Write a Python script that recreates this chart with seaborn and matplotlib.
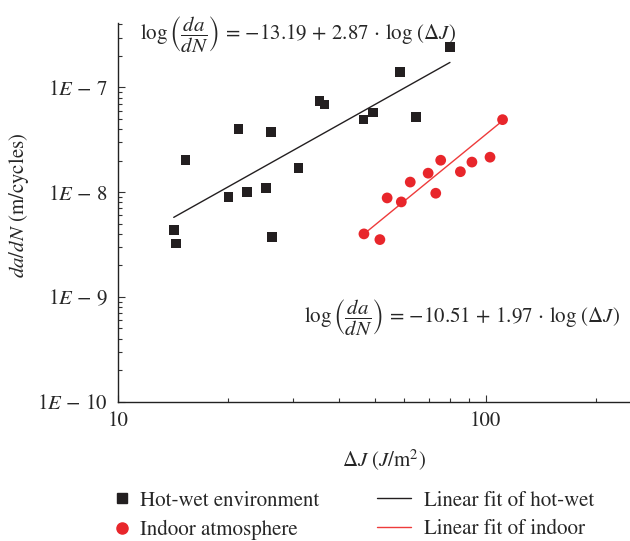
import numpy as np
import pandas as pd
import seaborn as sns
import matplotlib
matplotlib.use("Agg")
import matplotlib.pyplot as plt
from matplotlib.ticker import LogLocator, NullFormatter, FuncFormatter
from matplotlib.lines import Line2D

# ---- data ----
hotwet_dJ = [14.2, 14.4, 15.3, 20.0, 21.3, 22.5, 25.3, 26.1, 26.3, 31.0,
             35.4, 36.5, 46.6, 49.4, 58.6, 64.7, 80.0]
hotwet_rate = [4.34e-9, 3.23e-9, 2.02e-8, 8.98e-9, 4.02e-8, 1.01e-8, 1.09e-8,
               3.74e-8, 3.72e-9, 1.71e-8, 7.40e-8, 6.87e-8, 4.93e-8, 5.76e-8,
               1.41e-7, 5.24e-8, 2.43e-7]
indoor_dJ = [46.7, 51.6, 54.0, 59.0, 62.4, 69.8, 73.2, 75.5, 85.4, 91.8,
             102.8, 111.2]
indoor_rate = [4.0e-9, 3.53e-9, 8.82e-9, 8.08e-9, 1.25e-8, 1.52e-8, 9.78e-9,
               2.02e-8, 1.57e-8, 1.94e-8, 2.16e-8, 4.93e-8]
# fitted lines (intercept, slope) in log10 space
hotwet_fit = (-10.51, 1.97)
indoor_fit = (-13.19, 2.87)

series_names = ["Hot-wet environment", "Indoor atmosphere"]
fit_names = ["Linear fit of hot-wet", "Linear fit of indoor"]
eq_top = r"$\log\left(\dfrac{da}{dN}\right)\,=\,{-13.19}\,+\,2.87\,\cdot\,\log\,(\Delta J)$"
eq_bottom = r"$\log\left(\dfrac{da}{dN}\right)\,=\,{-10.51}\,+\,1.97\,\cdot\,\log\,(\Delta J)$"
y_ticks = [1e-10, 1e-9, 1e-8, 1e-7]
x_ticks = [10, 100]

# ---- style ----
FS = 15
sns.set_style("ticks")
plt.rcParams["font.family"] = ["STIXGeneral", "DejaVu Serif"]
plt.rcParams["mathtext.fontset"] = "stix"
plt.rcParams["font.size"] = FS

BLACK = "#231f20"
RED = "#e8262b"
RED_LINE = "#ee3b3b"

fig = plt.figure(figsize=(6.3, 5.41), dpi=100)
ax = fig.add_axes([117.7 / 630, (541 - 401.7) / 541, 514.3 / 630, (401.7 - 23.3) / 541])

df = pd.DataFrame({
    "dJ": hotwet_dJ + indoor_dJ,
    "rate": hotwet_rate + indoor_rate,
    "group": [series_names[0]] * len(hotwet_dJ) + [series_names[1]] * len(indoor_dJ),
})

def fit_frame(xs, coef, name):
    xe = np.array([min(xs), max(xs)])
    return pd.DataFrame({"dJ": xe, "rate": 10 ** (coef[0] + coef[1] * np.log10(xe)), "fit": name})

fits = pd.concat([fit_frame(hotwet_dJ, hotwet_fit, fit_names[0]),
                  fit_frame(indoor_dJ, indoor_fit, fit_names[1])])

sns.lineplot(data=fits, x="dJ", y="rate", hue="fit",
             palette={fit_names[0]: BLACK, fit_names[1]: RED_LINE},
             linewidth=1.0, legend=False, ax=ax)
sns.scatterplot(data=df[df.group == series_names[0]], x="dJ", y="rate",
                marker="s", color=BLACK, s=48, edgecolor="none", legend=False, ax=ax, zorder=3)
sns.scatterplot(data=df[df.group == series_names[1]], x="dJ", y="rate",
                marker="o", color=RED, s=60, edgecolor="none", legend=False, ax=ax, zorder=3)

ax.set_xscale("log")
ax.set_yscale("log")
ax.set_xlim(10, 250)
ax.set_ylim(1e-10, 4.1e-7)

ax.xaxis.set_minor_locator(LogLocator(base=10, subs=np.arange(2, 10), numticks=20))
ax.yaxis.set_minor_locator(LogLocator(base=10, subs=np.arange(2, 10), numticks=20))
ax.xaxis.set_minor_formatter(NullFormatter())
ax.yaxis.set_minor_formatter(NullFormatter())
ax.set_xticks(x_ticks)
ax.set_yticks(y_ticks)
ax.xaxis.set_major_formatter(FuncFormatter(lambda v, p: f"{v:g}"))
ax.yaxis.set_major_formatter(FuncFormatter(lambda v, p: r"$1E\,-\,%d$" % round(-np.log10(v))))

ax.tick_params(which="major", direction="in", length=5, width=0.8, labelsize=FS, pad=7, color="#333333")
ax.tick_params(which="minor", direction="in", length=3, width=0.8, color="#333333")
for s in ["top", "right"]:
    ax.spines[s].set_visible(False)
for s in ["left", "bottom"]:
    ax.spines[s].set_linewidth(1.0)
    ax.spines[s].set_color("#222222")

ax.set_xlabel(r"$\Delta J\ (J/\mathrm{m}^2)$", fontsize=FS)
ax.set_ylabel(r"$da/dN$ (m/cycles)", fontsize=FS)
ax.xaxis.set_label_coords(0.517, -0.122)
ax.yaxis.set_label_coords(-0.168, 0.52)

ax.text(0.0434, 0.969, eq_top, transform=ax.transAxes, ha="left", va="center", fontsize=FS)
ax.text(0.362, 0.221, eq_bottom, transform=ax.transAxes, ha="left", va="center", fontsize=FS)

h1 = [Line2D([], [], marker="s", color=BLACK, linestyle="none", markersize=7),
      Line2D([], [], marker="o", color=RED, linestyle="none", markersize=8)]
h2 = [Line2D([], [], color=BLACK, lw=1.0), Line2D([], [], color=RED_LINE, lw=1.0)]
leg1 = fig.legend(h1, series_names, loc="upper left", bbox_to_anchor=(115.5 / 630, 1 - 491 / 541),
                  frameon=False, handlelength=0.6, handletextpad=0.58, labelspacing=0.42,
                  fontsize=FS, borderaxespad=0, borderpad=0)
leg2 = fig.legend(h2, fit_names, loc="upper left", bbox_to_anchor=(377 / 630, 1 - 491 / 541),
                  frameon=False, handlelength=1.63, handletextpad=0.63, labelspacing=0.42,
                  fontsize=FS, borderaxespad=0, borderpad=0)

fig.savefig("out.png", dpi=100)
